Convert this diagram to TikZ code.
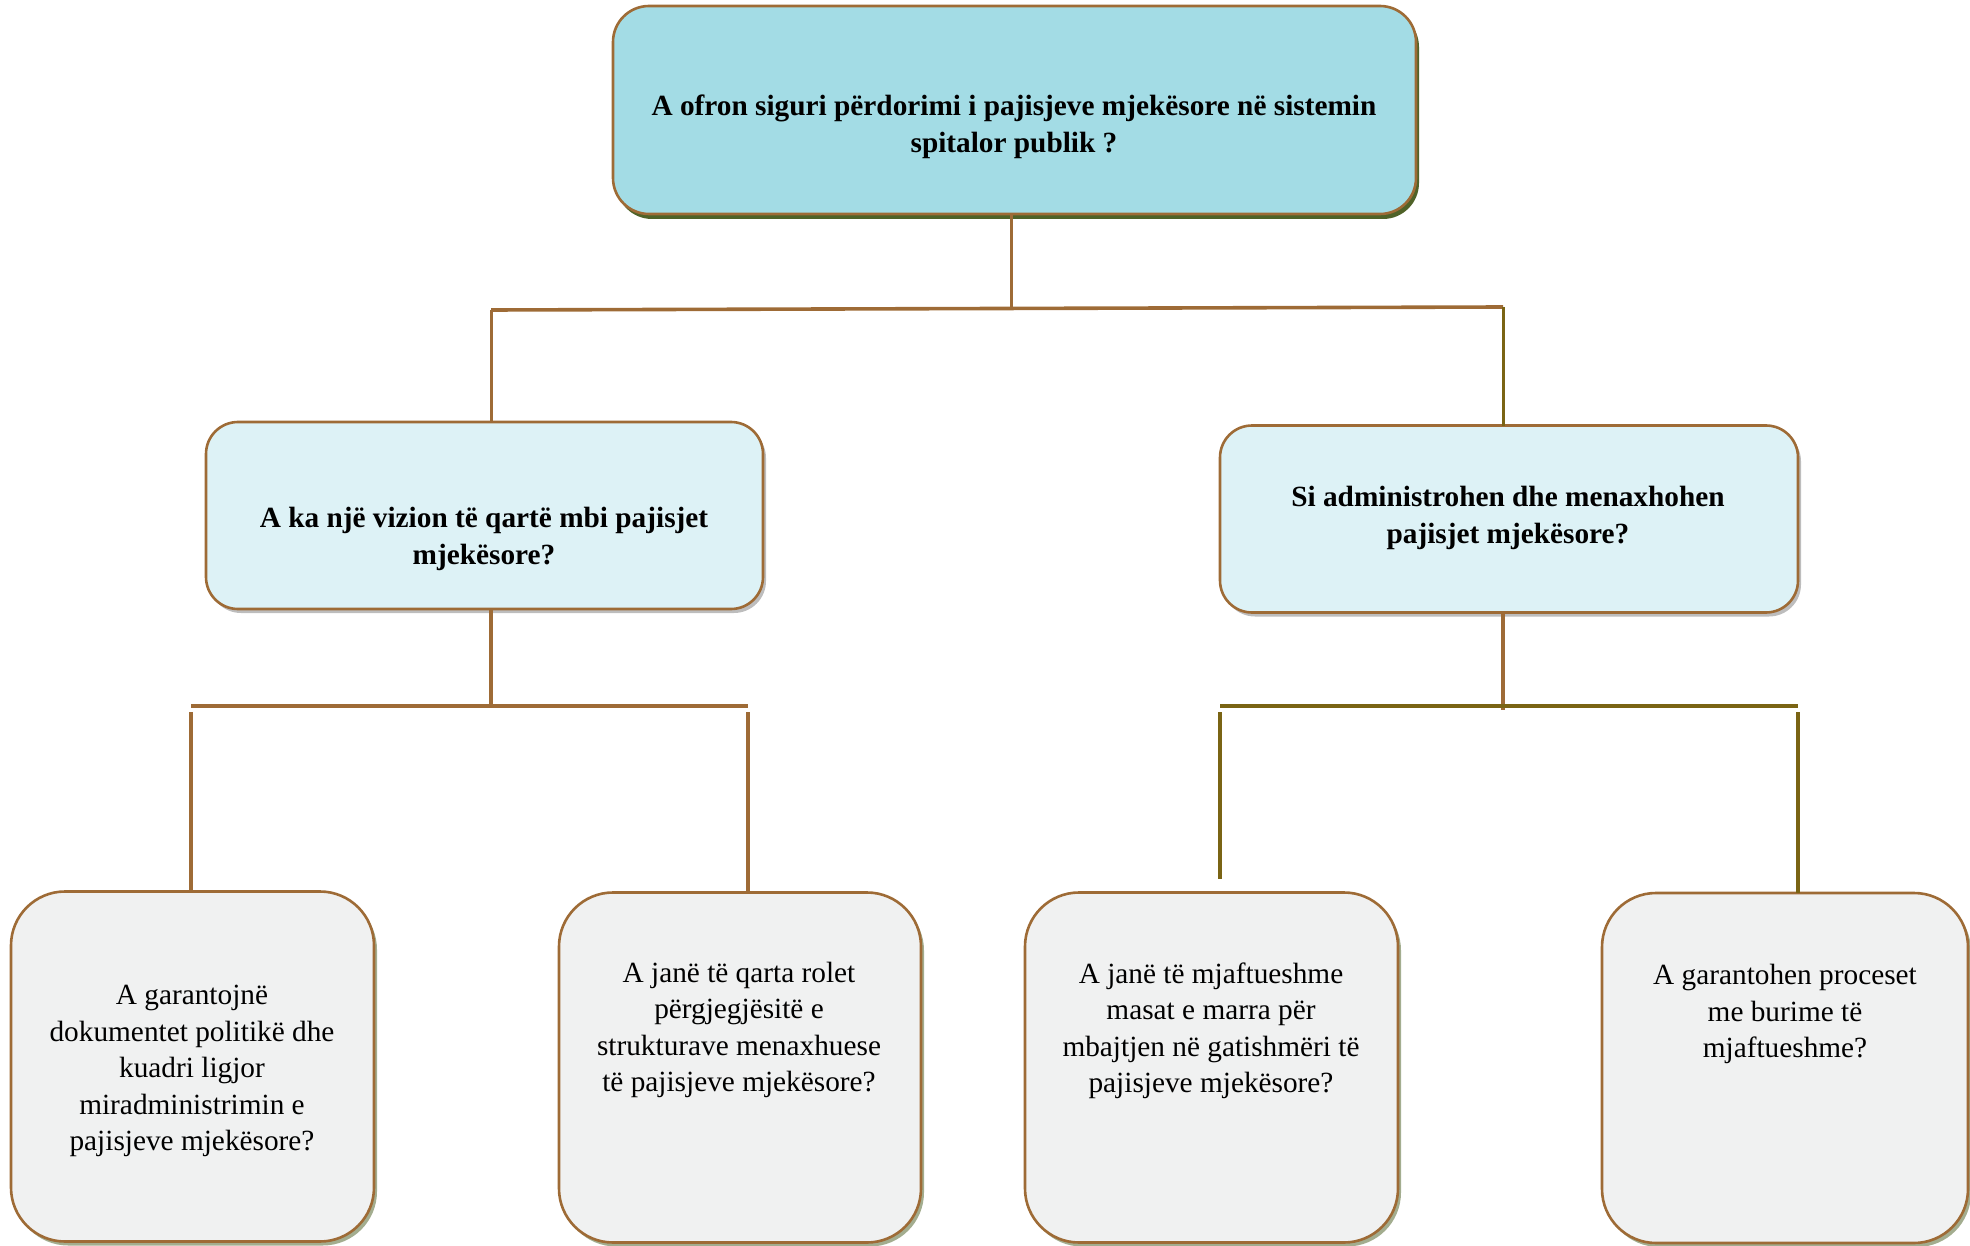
\documentclass[tikz,border=0pt]{standalone}
\usepackage{fontspec}
\setmainfont{Liberation Serif}
\usetikzlibrary{shadows}
\begin{document}
\definecolor{edgebrown}{HTML}{9E6B36}
\definecolor{lineolive}{HTML}{7A6414}
\definecolor{topfill}{HTML}{A3DCE5}
\definecolor{midfill}{HTML}{DDF2F6}
\definecolor{lowfill}{HTML}{F0F1F1}
\definecolor{topshade}{HTML}{4F6228}
\definecolor{midshade}{HTML}{BDBDBD}
\definecolor{lowshade}{HTML}{A3AD8F}
\begin{tikzpicture}[x=1pt,y=-1pt,
  box/.style={draw=edgebrown, line width=2.6pt, inner sep=0pt, outer sep=0pt},
  topbox/.style={box, fill=topfill, rounded corners=36pt, minimum width=803pt, minimum height=208pt,
    drop shadow={shadow xshift=3pt, shadow yshift=-5pt, fill=topshade, opacity=1}},
  midbox/.style={box, fill=midfill, rounded corners=32pt, minimum height=187pt,
    drop shadow={shadow xshift=3pt, shadow yshift=-4pt, fill=midshade, opacity=1}},
  lowbox/.style={box, fill=lowfill, rounded corners=54pt, minimum height=350pt,
    drop shadow={shadow xshift=3pt, shadow yshift=-4pt, fill=lowshade, opacity=1}},
  boldtxt/.style={align=center, font=\fontsize{29.3}{36.5}\selectfont\bfseries, inner sep=0pt},
  plaintxt/.style={align=center, font=\fontsize{29.3}{36.5}\selectfont, inner sep=0pt},
  conn/.style={draw=edgebrown, line width=3.6pt},
  connolive/.style={draw=lineolive, line width=3.6pt}]
\useasboundingbox (0,0) rectangle (1970,1246);

% boxes
\node[topbox] (root) at (1014.5,110) {};
\node[midbox, minimum width=557pt] (vision) at (484.5,515.5) {};
\node[midbox, minimum width=578pt] (admin) at (1509,519) {};
\node[lowbox, minimum width=363pt] (docs) at (192.5,1066.5) {};
\node[lowbox, minimum width=362pt] (roles) at (740,1067.5) {};
\node[lowbox, minimum width=373pt] (ready) at (1211.5,1067.5) {};
\node[lowbox, minimum width=366pt] (res) at (1785,1068) {};

% texts
\node[boldtxt] (troot) at (1014,127) {A ofron siguri përdorimi i pajisjeve mjekësore në sistemin\\spitalor publik ?};
\node[boldtxt] (tvision) at (484,539) {A ka një vizion të qartë mbi pajisjet\\mjekësore?};
\node[boldtxt] (tadmin) at (1508,518) {Si administrohen dhe menaxhohen\\pajisjet mjekësore?};
\node[plaintxt] (tdocs) at (192,1071) {A garantojnë\\dokumentet politikë dhe\\kuadri ligjor\\miradministrimin e\\pajisjeve mjekësore?};
\node[plaintxt] (troles) at (739,1030) {A janë të qarta rolet\\përgjegjësitë e\\strukturave menaxhuese\\të pajisjeve mjekësore?};
\node[plaintxt] (tready) at (1211,1031) {A janë të mjaftueshme\\masat e marra për\\mbajtjen në gatishmëri të\\pajisjeve mjekësore?};
\node[plaintxt] (tres) at (1785,1014) {A garantohen proceset\\me burime të\\mjaftueshme?};

% junction points
\coordinate (j0) at (1011,309);
\coordinate (j0l) at (491,310);
\coordinate (j0r) at (1503,307);
\coordinate (j1) at (491,706);
\coordinate (j1l) at (191,706);
\coordinate (j1r) at (748,706);
\coordinate (j2) at (1503,706);
\coordinate (j2l) at (1220,706);
\coordinate (j2r) at (1798,706);
\coordinate (e2l) at (1220,879);

% top level connectors
\draw[conn, line width=3pt] (root.south -| j0) -- (j0);
\draw[conn] (j0l) -- (j0r);
\draw[conn, line width=3pt] (j0l) -- (vision.north -| j0l);
\draw[connolive, line width=3pt] (j0r) -- (admin.north -| j0r);

% left branch
\draw[conn] (vision.south -| j1) -- (j1);
\draw[conn] (j1l) -- (j1r);
\draw[conn] ([yshift=-6pt]j1l) -- (docs.north -| j1l);
\draw[conn] ([yshift=-6pt]j1r) -- (roles.north -| j1r);

% right branch
\draw[conn] (admin.south -| j2) -- ([yshift=-4pt]j2);
\draw[connolive] (j2l) -- (j2r);
\draw[connolive] ([yshift=-6pt]j2l) -- (e2l);
\draw[connolive] ([yshift=-6pt]j2r) -- (res.north -| j2r);
\end{tikzpicture}
\end{document}
